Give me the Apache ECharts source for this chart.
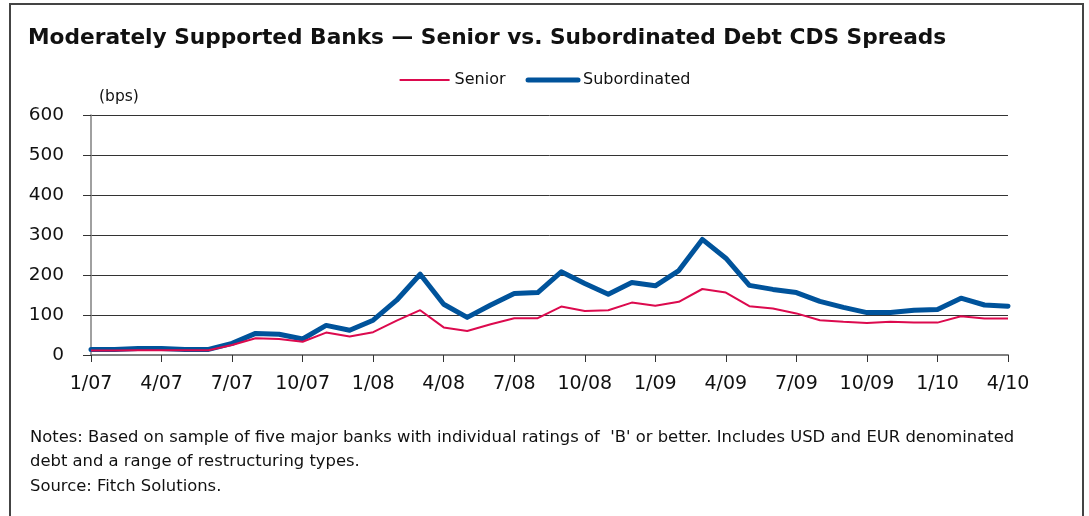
<!DOCTYPE html>
<html>
<head>
<meta charset="utf-8">
<script src="https://cdn.jsdelivr.net/npm/echarts@6/dist/echarts.min.js"></script>
<style>
  html, body { margin: 0; padding: 0; background: #fff; }
  #chart { width: 1089px; height: 516px; }
</style>
</head>
<body>
<div id="chart"></div>
<script>
// monthly points, 1/07 .. 4/10
var months = [
  '1/07', '2/07', '3/07', '4/07', '5/07', '6/07', '7/07', '8/07', '9/07', '10/07', '11/07', '12/07',
  '1/08', '2/08', '3/08', '4/08', '5/08', '6/08', '7/08', '8/08', '9/08', '10/08', '11/08', '12/08',
  '1/09', '2/09', '3/09', '4/09', '5/09', '6/09', '7/09', '8/09', '9/09', '10/09', '11/09', '12/09',
  '1/10', '2/10', '3/10', '4/10'
]
var senior = [
  11, 11, 12, 12, 12, 12, 25, 42, 40, 33, 56, 46,
  57, 86, 112, 69, 60, 77, 92, 92, 121, 110, 112, 131,
  123, 133, 165, 156, 122, 116, 104, 87, 83, 80, 83, 81,
  81, 97, 91, 91
]
var subordinated = [
  14, 14, 16, 16, 14, 14, 29, 54, 52, 40, 74, 62,
  87, 137, 202, 127, 94, 125, 154, 156, 208, 179, 152, 181,
  173, 211, 289, 242, 174, 164, 156, 134, 119, 106, 106, 112,
  114, 142, 125, 122
]
var noteLines = [
  "Notes: Based on sample of five major banks with individual ratings of  'B' or better. Includes USD and EUR denominated",
  'debt and a range of restructuring types.',
  'Source: Fitch Solutions.'
]

var font = 'DejaVu Sans'
var chart = echarts.init(document.getElementById('chart'))
var option = {
  backgroundColor: '#fff',
  animation: false,
  title: {
    text: 'Moderately Supported Banks \u2014 Senior vs. Subordinated Debt CDS Spreads',
    left: 23,
    top: 22,
    textStyle: { fontFamily: font, fontSize: 21.7, fontWeight: 'bold', color: '#111' }
  },
  legend: {
    top: 67,
    left: 'center',
    itemWidth: 50,
    itemHeight: 10,
    itemGap: 20,
    itemStyle: { opacity: 0 },
    textStyle: { fontFamily: font, fontSize: 16, color: '#111' },
    data: [
      { name: 'Senior', lineStyle: { width: 2 } },
      { name: 'Subordinated', lineStyle: { width: 5, cap: 'round' } }
    ]
  },
  grid: { left: 91, right: 81, top: 115, bottom: 161 },
  xAxis: {
    type: 'category',
    data: months,
    boundaryGap: false,
    axisLine: { lineStyle: { color: '#808080', width: 2 } },
    axisTick: { interval: 2, length: 7, lineStyle: { color: '#333', width: 1 } },
    axisLabel: { interval: 2, margin: 20, fontFamily: font, fontSize: 19, color: '#111' },
    splitLine: { show: false }
  },
  yAxis: {
    type: 'value',
    min: 0,
    max: 600,
    interval: 100,
    axisLine: { show: true, lineStyle: { color: '#808080', width: 1.5 } },
    axisTick: { show: true, length: 8, lineStyle: { color: '#333' } },
    axisLabel: { margin: 27, fontFamily: font, fontSize: 18.5, color: '#111' },
    splitLine: { lineStyle: { color: '#333', width: 1 } }
  },
  series: [
    {
      name: 'Senior',
      type: 'line',
      data: senior,
      symbol: 'none',
      color: '#DC0A4E',
      lineStyle: { width: 2, color: '#DC0A4E' },
      z: 3
    },
    {
      name: 'Subordinated',
      type: 'line',
      data: subordinated,
      symbol: 'none',
      color: '#00539B',
      lineStyle: { width: 5, color: '#00539B', join: 'round', cap: 'round' },
      z: 2
    }
  ],
  graphic: [
    {
      type: 'rect',
      shape: { x: 10, y: 4, width: 1073, height: 540 },
      style: { fill: 'none', stroke: '#444', lineWidth: 2 },
      silent: true
    },
    {
      type: 'text',
      left: 99,
      top: 89,
      style: { text: '(bps)', fontFamily: font, fontSize: 15.5, fill: '#111' }
    },
    {
      type: 'text',
      left: 30,
      top: 425,
      style: {
        text: noteLines.join('\n'),
        fontFamily: font,
        fontSize: 16.4,
        lineHeight: 24.5,
        fill: '#111'
      }
    }
  ]
}
chart.setOption(option)
</script>
</body>
</html>
